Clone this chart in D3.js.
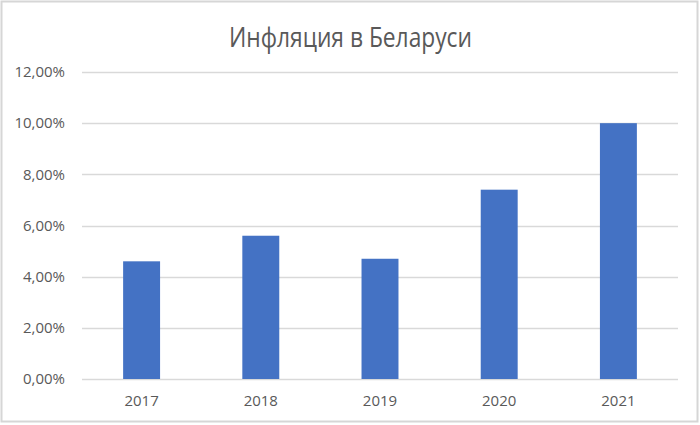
<!DOCTYPE html>
<html>
<head>
<meta charset="utf-8">
<script src="https://cdn.jsdelivr.net/npm/d3@7"></script>
<style>
  html, body { margin: 0; padding: 0; background: #fff; }
  svg { display: block; }
  text { font-family: "Open Sans", "Noto Sans", sans-serif; fill: #595959; }
</style>
</head>
<body>
<svg id="chart" width="700" height="425"></svg>
<script>
const title = "Инфляция в Беларуси";
const years = ["2017", "2018", "2019", "2020", "2021"];
const inflation = [0.046, 0.056, 0.047, 0.074, 0.100];
const yTicks = [0, 0.02, 0.04, 0.06, 0.08, 0.10, 0.12];

const W = 700, H = 425;
const margin = { left: 82, right: 22, top: 72, bottom: 46 };
const svg = d3.select("#chart");

svg.append("rect")
  .attr("x", 1.5).attr("y", 1.5)
  .attr("width", W - 4).attr("height", H - 5)
  .attr("fill", "#fff").attr("stroke", "#d6d6d6").attr("stroke-width", 2);

const x = d3.scaleBand()
  .domain(years)
  .range([margin.left, W - margin.right])
  .paddingInner(0.69).paddingOuter(0.345);

const y = d3.scaleLinear()
  .domain([0, 0.12])
  .range([H - margin.bottom, margin.top]);

const fmt = v => (v * 100).toFixed(2).replace(".", ",") + "%";

// gridlines
svg.append("g")
  .selectAll("line")
  .data(yTicks)
  .join("line")
  .attr("x1", margin.left).attr("x2", W - margin.right)
  .attr("y1", d => Math.round(y(d)) + 0.5).attr("y2", d => Math.round(y(d)) + 0.5)
  .attr("stroke", "#d9d9d9").attr("stroke-width", 1.3);

// y axis labels
const yAxis = d3.axisLeft(y).tickValues(yTicks).tickFormat(fmt).tickSize(0).tickPadding(17);
const gy = svg.append("g").attr("transform", `translate(${margin.left},0)`).call(yAxis);
gy.select(".domain").remove();
gy.selectAll("text").attr("font-size", 15).attr("font-family", null).style("fill", "#595959");

// bars
svg.append("g")
  .selectAll("rect")
  .data(years.map((yr, i) => ({ yr, v: inflation[i] })))
  .join("rect")
  .attr("x", d => x(d.yr))
  .attr("width", x.bandwidth())
  .attr("y", d => y(d.v))
  .attr("height", d => y(0) - y(d.v))
  .attr("fill", "#4472c4");

// x axis labels
const xAxis = d3.axisBottom(x).tickSize(0).tickPadding(16);
const gx = svg.append("g").attr("transform", `translate(0,${y(0)})`).call(xAxis);
gx.select(".domain").remove();
gx.selectAll("text").attr("font-size", 15).attr("font-family", null).style("fill", "#595959");

// title
svg.append("text")
  .attr("x", 350.5).attr("y", 47)
  .attr("text-anchor", "middle")
  .attr("font-size", 27)
  .attr("textLength", 243)
  .attr("lengthAdjust", "spacingAndGlyphs")
  .text(title);
</script>
</body>
</html>
